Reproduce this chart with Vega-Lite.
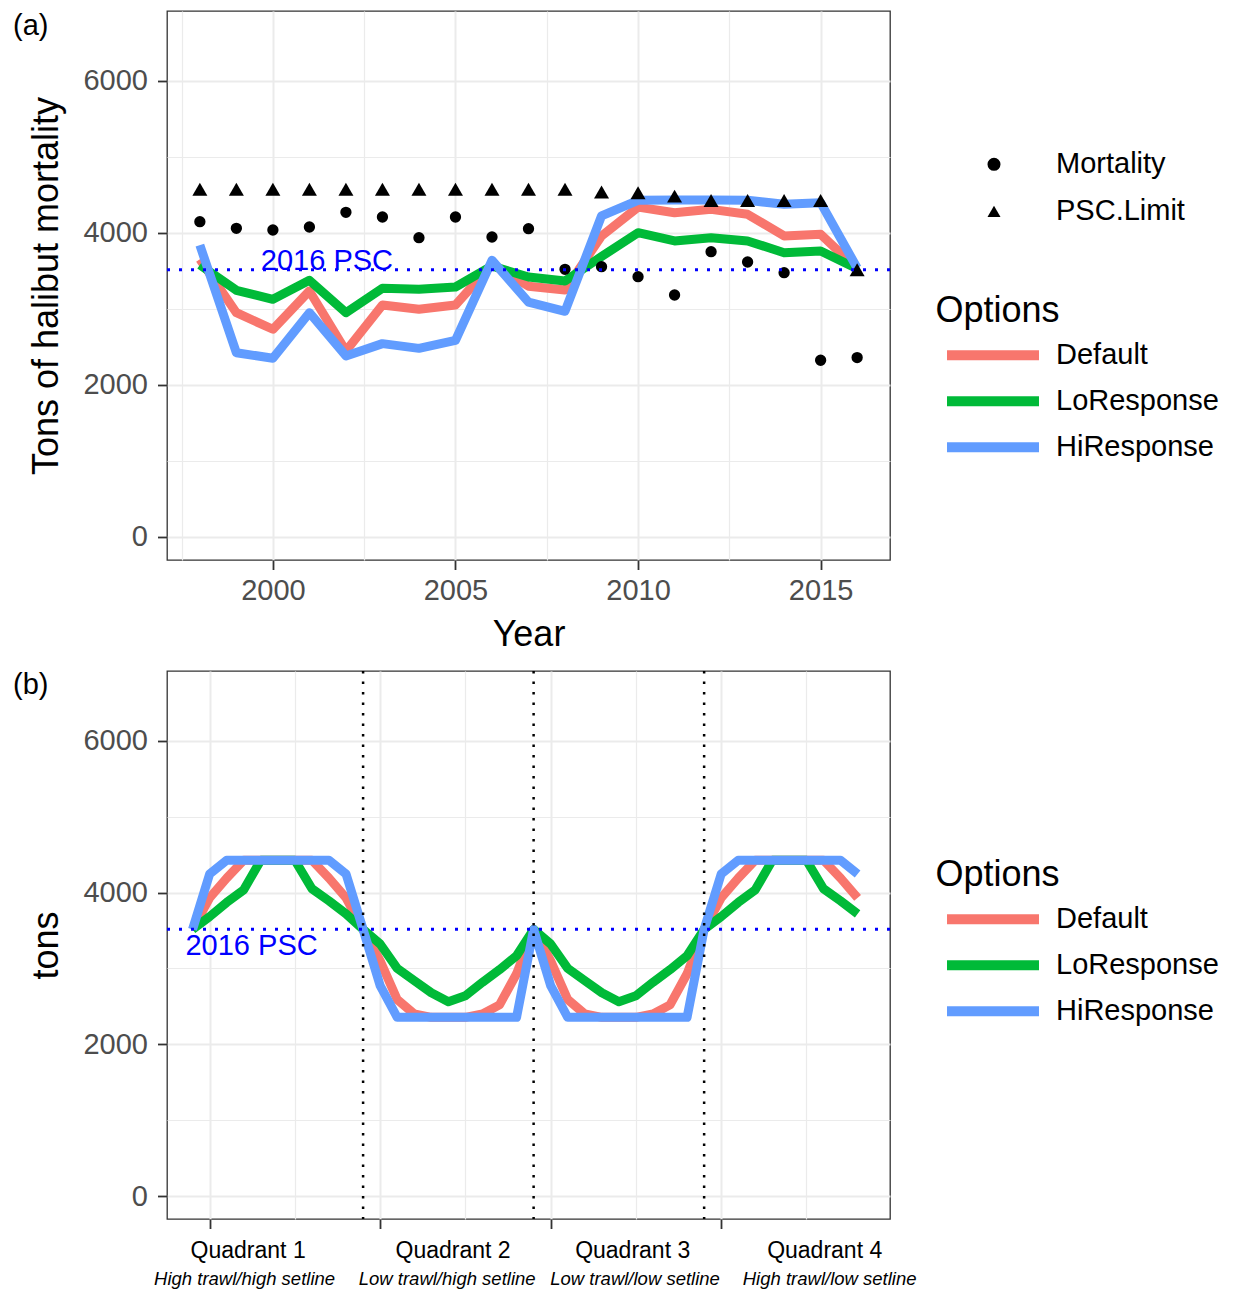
{
  "$schema": "https://vega.github.io/schema/vega-lite/v6.json",
  "padding": {"left": 12, "top": 10, "right": 0, "bottom": 0},
  "background": "white",
  "columns": 1,
  "spacing": 16,
  "resolve": {"scale": {"color": "independent"}},
  "config": {
    "font": "Liberation Sans",
    "view": {"stroke": "#333333", "strokeWidth": 1.3},
    "axis": {
      "domain": false,
      "labelFontSize": 29,
      "labelColor": "#4D4D4D",
      "labelFlush": false,
      "labelOverlap": false,
      "labelBound": false,
      "labelLimit": 400,
      "tickColor": "#333333",
      "tickWidth": 1.8,
      "tickSize": 9.5,
      "gridColor": "#EBEBEB",
      "titleFontSize": 36,
      "titleFontWeight": "normal",
      "titleColor": "black"
    },
    "legend": {
      "labelFontSize": 29,
      "labelColor": "black",
      "labelLimit": 400,
      "titleFontSize": 36,
      "titleFontWeight": "normal",
      "titleColor": "black",
      "padding": 0
    },
    "title": {"fontSize": 29, "fontWeight": "normal", "color": "black"}
  },
  "datasets": {
    "lines_a": [
      {"year": 1998, "option": "Default", "tons": 3654}, {"year": 1999, "option": "Default", "tons": 2951},
      {"year": 2000, "option": "Default", "tons": 2733}, {"year": 2001, "option": "Default", "tons": 3237},
      {"year": 2002, "option": "Default", "tons": 2447}, {"year": 2003, "option": "Default", "tons": 3053},
      {"year": 2004, "option": "Default", "tons": 2996}, {"year": 2005, "option": "Default", "tons": 3053},
      {"year": 2006, "option": "Default", "tons": 3590}, {"year": 2007, "option": "Default", "tons": 3300},
      {"year": 2008, "option": "Default", "tons": 3250}, {"year": 2009, "option": "Default", "tons": 3961},
      {"year": 2010, "option": "Default", "tons": 4340}, {"year": 2011, "option": "Default", "tons": 4267},
      {"year": 2012, "option": "Default", "tons": 4311}, {"year": 2013, "option": "Default", "tons": 4246},
      {"year": 2014, "option": "Default", "tons": 3961}, {"year": 2015, "option": "Default", "tons": 3983},
      {"year": 2016, "option": "Default", "tons": 3530},
      {"year": 1998, "option": "LoResponse", "tons": 3580}, {"year": 1999, "option": "LoResponse", "tons": 3246},
      {"year": 2000, "option": "LoResponse", "tons": 3127}, {"year": 2001, "option": "LoResponse", "tons": 3377},
      {"year": 2002, "option": "LoResponse", "tons": 2951}, {"year": 2003, "option": "LoResponse", "tons": 3272},
      {"year": 2004, "option": "LoResponse", "tons": 3259}, {"year": 2005, "option": "LoResponse", "tons": 3289},
      {"year": 2006, "option": "LoResponse", "tons": 3566}, {"year": 2007, "option": "LoResponse", "tons": 3420},
      {"year": 2008, "option": "LoResponse", "tons": 3368}, {"year": 2009, "option": "LoResponse", "tons": 3690},
      {"year": 2010, "option": "LoResponse", "tons": 4004}, {"year": 2011, "option": "LoResponse", "tons": 3895},
      {"year": 2012, "option": "LoResponse", "tons": 3938}, {"year": 2013, "option": "LoResponse", "tons": 3895},
      {"year": 2014, "option": "LoResponse", "tons": 3741}, {"year": 2015, "option": "LoResponse", "tons": 3763},
      {"year": 2016, "option": "LoResponse", "tons": 3530},
      {"year": 1998, "option": "HiResponse", "tons": 3840}, {"year": 1999, "option": "HiResponse", "tons": 2425},
      {"year": 2000, "option": "HiResponse", "tons": 2351}, {"year": 2001, "option": "HiResponse", "tons": 2951},
      {"year": 2002, "option": "HiResponse", "tons": 2382}, {"year": 2003, "option": "HiResponse", "tons": 2544},
      {"year": 2004, "option": "HiResponse", "tons": 2482}, {"year": 2005, "option": "HiResponse", "tons": 2588},
      {"year": 2006, "option": "HiResponse", "tons": 3641}, {"year": 2007, "option": "HiResponse", "tons": 3090},
      {"year": 2008, "option": "HiResponse", "tons": 2970}, {"year": 2009, "option": "HiResponse", "tons": 4224},
      {"year": 2010, "option": "HiResponse", "tons": 4430}, {"year": 2011, "option": "HiResponse", "tons": 4435},
      {"year": 2012, "option": "HiResponse", "tons": 4435}, {"year": 2013, "option": "HiResponse", "tons": 4430},
      {"year": 2014, "option": "HiResponse", "tons": 4377}, {"year": 2015, "option": "HiResponse", "tons": 4399},
      {"year": 2016, "option": "HiResponse", "tons": 3540}
    ],
    "pts_a": [
      {"year": 1998, "type": "Mortality", "tons": 4149}, {"year": 1999, "type": "Mortality", "tons": 4061},
      {"year": 2000, "type": "Mortality", "tons": 4039}, {"year": 2001, "type": "Mortality", "tons": 4079},
      {"year": 2002, "type": "Mortality", "tons": 4272}, {"year": 2003, "type": "Mortality", "tons": 4210},
      {"year": 2004, "type": "Mortality", "tons": 3938}, {"year": 2005, "type": "Mortality", "tons": 4210},
      {"year": 2006, "type": "Mortality", "tons": 3947}, {"year": 2007, "type": "Mortality", "tons": 4057},
      {"year": 2008, "type": "Mortality", "tons": 3522}, {"year": 2009, "type": "Mortality", "tons": 3557},
      {"year": 2010, "type": "Mortality", "tons": 3425}, {"year": 2011, "type": "Mortality", "tons": 3184},
      {"year": 2012, "type": "Mortality", "tons": 3754}, {"year": 2013, "type": "Mortality", "tons": 3618},
      {"year": 2014, "type": "Mortality", "tons": 3478}, {"year": 2015, "type": "Mortality", "tons": 2325},
      {"year": 2016, "type": "Mortality", "tons": 2360},
      {"year": 1998, "type": "PSC.Limit", "tons": 4575}, {"year": 1999, "type": "PSC.Limit", "tons": 4575},
      {"year": 2000, "type": "PSC.Limit", "tons": 4575}, {"year": 2001, "type": "PSC.Limit", "tons": 4575},
      {"year": 2002, "type": "PSC.Limit", "tons": 4575}, {"year": 2003, "type": "PSC.Limit", "tons": 4575},
      {"year": 2004, "type": "PSC.Limit", "tons": 4575}, {"year": 2005, "type": "PSC.Limit", "tons": 4575},
      {"year": 2006, "type": "PSC.Limit", "tons": 4575}, {"year": 2007, "type": "PSC.Limit", "tons": 4575},
      {"year": 2008, "type": "PSC.Limit", "tons": 4575}, {"year": 2009, "type": "PSC.Limit", "tons": 4540},
      {"year": 2010, "type": "PSC.Limit", "tons": 4530}, {"year": 2011, "type": "PSC.Limit", "tons": 4485},
      {"year": 2012, "type": "PSC.Limit", "tons": 4426}, {"year": 2013, "type": "PSC.Limit", "tons": 4426},
      {"year": 2014, "type": "PSC.Limit", "tons": 4426}, {"year": 2015, "type": "PSC.Limit", "tons": 4426},
      {"year": 2016, "type": "PSC.Limit", "tons": 3515}
    ],
    "lines_b": [
      {"x": 0, "option": "Default", "tons": 3515}, {"x": 1, "option": "Default", "tons": 3930},
      {"x": 2, "option": "Default", "tons": 4190}, {"x": 3, "option": "Default", "tons": 4426},
      {"x": 4, "option": "Default", "tons": 4426}, {"x": 5, "option": "Default", "tons": 4426},
      {"x": 6, "option": "Default", "tons": 4426}, {"x": 7, "option": "Default", "tons": 4426},
      {"x": 8, "option": "Default", "tons": 4190}, {"x": 9, "option": "Default", "tons": 3930},
      {"x": 10, "option": "Default", "tons": 3515}, {"x": 11, "option": "Default", "tons": 3100},
      {"x": 12, "option": "Default", "tons": 2590}, {"x": 13, "option": "Default", "tons": 2400},
      {"x": 14, "option": "Default", "tons": 2356}, {"x": 15, "option": "Default", "tons": 2356},
      {"x": 16, "option": "Default", "tons": 2356}, {"x": 17, "option": "Default", "tons": 2400},
      {"x": 18, "option": "Default", "tons": 2520}, {"x": 19, "option": "Default", "tons": 2930},
      {"x": 20, "option": "Default", "tons": 3515}, {"x": 21, "option": "Default", "tons": 3100},
      {"x": 22, "option": "Default", "tons": 2590}, {"x": 23, "option": "Default", "tons": 2400},
      {"x": 24, "option": "Default", "tons": 2356}, {"x": 25, "option": "Default", "tons": 2356},
      {"x": 26, "option": "Default", "tons": 2356}, {"x": 27, "option": "Default", "tons": 2400},
      {"x": 28, "option": "Default", "tons": 2520}, {"x": 29, "option": "Default", "tons": 2930},
      {"x": 30, "option": "Default", "tons": 3515}, {"x": 31, "option": "Default", "tons": 3930},
      {"x": 32, "option": "Default", "tons": 4190}, {"x": 33, "option": "Default", "tons": 4426},
      {"x": 34, "option": "Default", "tons": 4426}, {"x": 35, "option": "Default", "tons": 4426},
      {"x": 36, "option": "Default", "tons": 4426}, {"x": 37, "option": "Default", "tons": 4426},
      {"x": 38, "option": "Default", "tons": 4190}, {"x": 39, "option": "Default", "tons": 3930},
      {"x": 0, "option": "LoResponse", "tons": 3515}, {"x": 1, "option": "LoResponse", "tons": 3683},
      {"x": 2, "option": "LoResponse", "tons": 3870}, {"x": 3, "option": "LoResponse", "tons": 4037},
      {"x": 4, "option": "LoResponse", "tons": 4426}, {"x": 5, "option": "LoResponse", "tons": 4426},
      {"x": 6, "option": "LoResponse", "tons": 4426}, {"x": 7, "option": "LoResponse", "tons": 4050},
      {"x": 8, "option": "LoResponse", "tons": 3890}, {"x": 9, "option": "LoResponse", "tons": 3720},
      {"x": 10, "option": "LoResponse", "tons": 3515}, {"x": 11, "option": "LoResponse", "tons": 3322},
      {"x": 12, "option": "LoResponse", "tons": 3000}, {"x": 13, "option": "LoResponse", "tons": 2839},
      {"x": 14, "option": "LoResponse", "tons": 2680}, {"x": 15, "option": "LoResponse", "tons": 2562},
      {"x": 16, "option": "LoResponse", "tons": 2641}, {"x": 17, "option": "LoResponse", "tons": 2817},
      {"x": 18, "option": "LoResponse", "tons": 2984}, {"x": 19, "option": "LoResponse", "tons": 3168},
      {"x": 20, "option": "LoResponse", "tons": 3515}, {"x": 21, "option": "LoResponse", "tons": 3322},
      {"x": 22, "option": "LoResponse", "tons": 3000}, {"x": 23, "option": "LoResponse", "tons": 2839},
      {"x": 24, "option": "LoResponse", "tons": 2680}, {"x": 25, "option": "LoResponse", "tons": 2562},
      {"x": 26, "option": "LoResponse", "tons": 2641}, {"x": 27, "option": "LoResponse", "tons": 2817},
      {"x": 28, "option": "LoResponse", "tons": 2984}, {"x": 29, "option": "LoResponse", "tons": 3168},
      {"x": 30, "option": "LoResponse", "tons": 3515}, {"x": 31, "option": "LoResponse", "tons": 3683},
      {"x": 32, "option": "LoResponse", "tons": 3870}, {"x": 33, "option": "LoResponse", "tons": 4037},
      {"x": 34, "option": "LoResponse", "tons": 4426}, {"x": 35, "option": "LoResponse", "tons": 4426},
      {"x": 36, "option": "LoResponse", "tons": 4426}, {"x": 37, "option": "LoResponse", "tons": 4050},
      {"x": 38, "option": "LoResponse", "tons": 3890}, {"x": 39, "option": "LoResponse", "tons": 3720},
      {"x": 0, "option": "HiResponse", "tons": 3515}, {"x": 1, "option": "HiResponse", "tons": 4245},
      {"x": 2, "option": "HiResponse", "tons": 4426}, {"x": 3, "option": "HiResponse", "tons": 4426},
      {"x": 4, "option": "HiResponse", "tons": 4426}, {"x": 5, "option": "HiResponse", "tons": 4426},
      {"x": 6, "option": "HiResponse", "tons": 4426}, {"x": 7, "option": "HiResponse", "tons": 4426},
      {"x": 8, "option": "HiResponse", "tons": 4426}, {"x": 9, "option": "HiResponse", "tons": 4245},
      {"x": 10, "option": "HiResponse", "tons": 3515}, {"x": 11, "option": "HiResponse", "tons": 2773},
      {"x": 12, "option": "HiResponse", "tons": 2356}, {"x": 13, "option": "HiResponse", "tons": 2356},
      {"x": 14, "option": "HiResponse", "tons": 2356}, {"x": 15, "option": "HiResponse", "tons": 2356},
      {"x": 16, "option": "HiResponse", "tons": 2356}, {"x": 17, "option": "HiResponse", "tons": 2356},
      {"x": 18, "option": "HiResponse", "tons": 2356}, {"x": 19, "option": "HiResponse", "tons": 2356},
      {"x": 20, "option": "HiResponse", "tons": 3515}, {"x": 21, "option": "HiResponse", "tons": 2773},
      {"x": 22, "option": "HiResponse", "tons": 2356}, {"x": 23, "option": "HiResponse", "tons": 2356},
      {"x": 24, "option": "HiResponse", "tons": 2356}, {"x": 25, "option": "HiResponse", "tons": 2356},
      {"x": 26, "option": "HiResponse", "tons": 2356}, {"x": 27, "option": "HiResponse", "tons": 2356},
      {"x": 28, "option": "HiResponse", "tons": 2356}, {"x": 29, "option": "HiResponse", "tons": 2356},
      {"x": 30, "option": "HiResponse", "tons": 3515}, {"x": 31, "option": "HiResponse", "tons": 4245},
      {"x": 32, "option": "HiResponse", "tons": 4426}, {"x": 33, "option": "HiResponse", "tons": 4426},
      {"x": 34, "option": "HiResponse", "tons": 4426}, {"x": 35, "option": "HiResponse", "tons": 4426},
      {"x": 36, "option": "HiResponse", "tons": 4426}, {"x": 37, "option": "HiResponse", "tons": 4426},
      {"x": 38, "option": "HiResponse", "tons": 4426}, {"x": 39, "option": "HiResponse", "tons": 4245}
    ]
  },
  "concat": [
    {
      "width": 723,
      "height": 549,
      "title": {"text": "(a)", "anchor": "start", "frame": "group", "offset": -31, "dx": -154, "dy": 22, "baseline": "alphabetic"},
      "layer": [
        {
          "data": {"name": "lines_a"},
          "mark": {"type": "line", "strokeWidth": 9, "strokeJoin": "round", "strokeCap": "butt"},
          "encoding": {
            "x": {
              "field": "year", "type": "quantitative",
              "scale": {"domain": [1997.1, 2016.9], "nice": false, "zero": false},
              "axis": {
                "title": "Year",
                "values": [1997.5, 2000, 2002.5, 2005, 2007.5, 2010, 2012.5, 2015],
                "labelExpr": "datum.value % 5 == 0 ? format(datum.value, 'd') : ''",
                "tickOpacity": {"condition": {"test": "datum.value % 5 == 0", "value": 1}, "value": 0},
                "gridWidth": {"condition": {"test": "datum.value % 5 == 0", "value": 2}, "value": 1.2},
                "labelPadding": 6.5,
                "titlePadding": 12
              }
            },
            "y": {
              "field": "tons", "type": "quantitative",
              "scale": {"domain": [-303, 6921], "nice": false, "zero": false},
              "axis": {
                "title": "Tons of halibut mortality",
                "values": [0, 1000, 2000, 3000, 4000, 5000, 6000],
                "labelExpr": "datum.value % 2000 == 0 ? format(datum.value, 'd') : ''",
                "tickOpacity": {"condition": {"test": "datum.value % 2000 == 0", "value": 1}, "value": 0},
                "gridWidth": {"condition": {"test": "datum.value % 2000 == 0", "value": 2}, "value": 1.2},
                "labelPadding": 10,
                "titlePadding": 17
              }
            },
            "color": {
              "field": "option", "type": "nominal",
              "scale": {"domain": ["Default", "LoResponse", "HiResponse"], "range": ["#F8766D", "#00BA38", "#619CFF"]},
              "legend": {
                "title": "Options", "orient": "none", "legendX": 768.5, "legendY": 283.3,
                "symbolType": "M-3,0H3", "symbolSize": 940, "symbolStrokeWidth": 10,
                "symbolOffset": 37, "labelOffset": 42.5, "rowPadding": 5, "titlePadding": 4.5
              }
            }
          }
        },
        {
          "data": {"name": "pts_a"},
          "mark": {"type": "point", "filled": true, "color": "black", "opacity": 1},
          "encoding": {
            "x": {"field": "year", "type": "quantitative"},
            "y": {"field": "tons", "type": "quantitative"},
            "shape": {
              "field": "type", "type": "nominal",
              "scale": {"domain": ["Mortality", "PSC.Limit"], "range": ["circle", "triangle-up"]},
              "legend": {
                "title": null, "orient": "none", "legendX": 812.5, "legendY": 138.8,
                "symbolSize": 170, "symbolFillColor": "black", "symbolStrokeWidth": 0,
                "labelOffset": 47.5, "rowPadding": 17
              }
            },
            "size": {"condition": {"test": "datum.type === 'Mortality'", "value": 128}, "value": 225}
          }
        },
        {
          "data": {"values": [{"tons": 3515}]},
          "mark": {"type": "rule", "color": "#0000FF", "strokeWidth": 3, "strokeDash": [3, 9]},
          "encoding": {"y": {"field": "tons", "type": "quantitative"}}
        },
        {
          "data": {"values": [{"year": 2001.48, "tons": 3515, "label": "2016 PSC"}]},
          "mark": {"type": "text", "color": "#0000FF", "fontSize": 29, "align": "center", "baseline": "alphabetic"},
          "encoding": {
            "x": {"field": "year", "type": "quantitative"},
            "y": {"field": "tons", "type": "quantitative"},
            "text": {"field": "label"}
          }
        }
      ]
    },
    {
      "width": 723,
      "height": 548,
      "title": {"text": "(b)", "anchor": "start", "frame": "group", "offset": -31, "dx": -154, "dy": 22, "baseline": "alphabetic"},
      "resolve": {"axis": {"x": "independent"}},
      "layer": [
        {
          "data": {"name": "lines_b"},
          "mark": {"type": "line", "strokeWidth": 9, "strokeJoin": "round", "strokeCap": "butt"},
          "encoding": {
            "x": {
              "field": "x", "type": "quantitative",
              "scale": {"domain": [-1.5, 40.9], "nice": false, "zero": false},
              "axis": {
                "title": null, "orient": "bottom", "labels": false,
                "values": [1, 6, 11, 16, 21, 26, 31, 36],
                "tickOpacity": {"condition": {"test": "datum.value % 10 == 1", "value": 1}, "value": 0},
                "gridWidth": {"condition": {"test": "datum.value % 10 == 1", "value": 2}, "value": 1.2}
              }
            },
            "y": {
              "field": "tons", "type": "quantitative",
              "scale": {"domain": [-303, 6921], "nice": false, "zero": false},
              "axis": {
                "title": "tons",
                "values": [0, 1000, 2000, 3000, 4000, 5000, 6000],
                "labelExpr": "datum.value % 2000 == 0 ? format(datum.value, 'd') : ''",
                "tickOpacity": {"condition": {"test": "datum.value % 2000 == 0", "value": 1}, "value": 0},
                "gridWidth": {"condition": {"test": "datum.value % 2000 == 0", "value": 2}, "value": 1.2},
                "labelPadding": 10,
                "titlePadding": 17
              }
            },
            "color": {
              "field": "option", "type": "nominal",
              "scale": {"domain": ["Default", "LoResponse", "HiResponse"], "range": ["#F8766D", "#00BA38", "#619CFF"]},
              "legend": {
                "title": "Options", "orient": "none", "legendX": 768.5, "legendY": 187.3,
                "symbolType": "M-3,0H3", "symbolSize": 940, "symbolStrokeWidth": 10,
                "symbolOffset": 37, "labelOffset": 42.5, "rowPadding": 5, "titlePadding": 4.5
              }
            }
          }
        },
        {
          "data": {"values": [{"x": 10}, {"x": 20}, {"x": 30}]},
          "mark": {"type": "rule", "color": "black", "strokeWidth": 2.5, "strokeDash": [2.5, 8]},
          "encoding": {
            "x": {
              "field": "x", "type": "quantitative",
              "axis": {
                "title": null, "orient": "bottom", "grid": false, "ticks": false, "domain": false,
                "values": [3.23, 15.25, 25.78, 37.04],
                "labelExpr": "datum.value < 10 ? 'Quadrant 1' : datum.value < 20 ? 'Quadrant 2' : datum.value < 30 ? 'Quadrant 3' : 'Quadrant 4'",
                "labelFontSize": 23, "labelColor": "black", "labelPadding": 20
              }
            }
          }
        },
        {
          "data": {"values": [{"tons": 3515}]},
          "mark": {"type": "rule", "color": "#0000FF", "strokeWidth": 3, "strokeDash": [3, 9]},
          "encoding": {"y": {"field": "tons", "type": "quantitative"}}
        },
        {
          "data": {"values": [{"x": 3.46, "tons": 3177, "label": "2016 PSC"}]},
          "mark": {"type": "text", "color": "#0000FF", "fontSize": 29, "align": "center", "baseline": "alphabetic"},
          "encoding": {
            "x": {
              "field": "x", "type": "quantitative",
              "axis": {
                "title": null, "orient": "bottom", "grid": false, "ticks": false, "domain": false,
                "values": [3.02, 14.9, 25.92, 37.33],
                "labelExpr": "datum.value < 10 ? 'High trawl/high setline' : datum.value < 20 ? 'Low trawl/high setline' : datum.value < 30 ? 'Low trawl/low setline' : 'High trawl/low setline'",
                "labelFontSize": 18.5, "labelFontStyle": "italic", "labelColor": "black", "labelPadding": 50
              }
            },
            "y": {"field": "tons", "type": "quantitative"},
            "text": {"field": "label"}
          }
        }
      ]
    }
  ]
}
